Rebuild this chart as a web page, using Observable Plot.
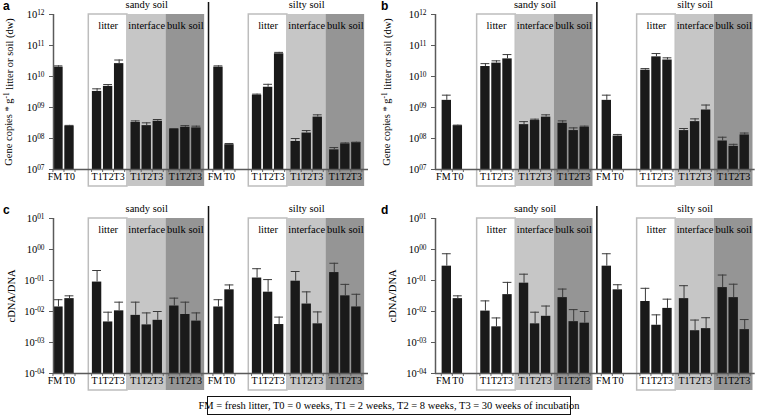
<!DOCTYPE html>
<html><head><meta charset="utf-8">
<script src="https://cdn.jsdelivr.net/npm/d3@7"></script>
<script src="https://cdn.jsdelivr.net/npm/@observablehq/plot@0.6"></script>
<style>
body{margin:0;background:#fff;}
#fig{position:relative;width:757px;height:420px;font-family:"Liberation Serif",serif;background:#fff;overflow:hidden;}
.panel{position:absolute;}
.letter{position:absolute;font-family:"Liberation Sans",Arial,sans-serif;font-weight:bold;font-size:12px;line-height:12px;}
#caption{position:absolute;left:207px;top:396px;width:364px;height:19px;box-sizing:border-box;border:1.5px solid #111;font-size:10.5px;display:flex;align-items:center;justify-content:center;white-space:nowrap;}
</style></head><body><div id="fig"></div>
<script>
// ---------- categories / labels ----------
const soils = ["sandy soil", "silty soil"];
const startLabels = ["FM", "T0"];
const compartments = ["litter", "interface", "bulk soil"];
const times = ["T1", "T2", "T3"];
const geneTickExps = ["07", "08", "09", "10", "11", "12"];
const ratioTickExps = ["-04", "-03", "-02", "-01", "00", "01"];
const geneLabel = "Gene copies * g^-1 litter or soil (dw)";
const ratioLabel = "cDNA/DNA";
const captionText = "FM = fresh litter, T0 = 0 weeks, T1 = 2 weeks, T2 = 8 weeks, T3 = 30 weeks of incubation";

// order in each array: FM, T0, litter T1-T3, interface T1-T3, bulk soil T1-T3
// panel a
const aSandy    = [2.0e10, 2.5e8, 3.3e9, 4.8e9, 2.6e10, 3.3e8, 2.6e8, 3.6e8, 2.0e8, 2.3e8, 2.2e8];
const aSandyErr = [2.2e10, 2.65e8, 4.0e9, 5.5e9, 3.4e10, 3.7e8, 3.2e8, 4.1e8, 2.1e8, 2.6e8, 2.5e8];
const aSilty    = [2.0e10, 6.3e7, 2.5e9, 4.5e9, 5.4e10, 8.0e7, 1.5e8, 4.9e8, 4.3e7, 6.7e7, 7.4e7];
const aSiltyErr = [2.2e10, 6.9e7, 2.7e9, 5.6e9, 6.0e10, 1.0e8, 1.8e8, 5.8e8, 5.1e7, 7.2e7, 7.6e7];
// panel b
const bSandy    = [1.7e9, 2.6e8, 2.1e10, 2.7e10, 3.7e10, 2.8e8, 3.8e8, 4.9e8, 3.1e8, 1.8e8, 2.3e8];
const bSandyErr = [2.5e9, 2.7e8, 2.6e10, 3.2e10, 5.1e10, 3.5e8, 4.2e8, 5.8e8, 3.7e8, 2.2e8, 2.5e8];
const bSilty    = [1.7e9, 1.2e8, 1.6e10, 4.3e10, 3.4e10, 1.8e8, 3.5e8, 8.3e8, 8.3e7, 5.6e7, 1.3e8];
const bSiltyErr = [2.5e9, 1.35e8, 1.8e10, 5.5e10, 4.0e10, 2.1e8, 4.3e8, 1.2e9, 1.1e8, 6.5e7, 1.5e8];
// panel c
const cSandy    = [1.4e-2, 2.6e-2, 8.9e-2, 4.6e-3, 1.05e-2, 7.5e-3, 3.7e-3, 5.2e-3, 1.5e-2, 8.0e-3, 4.9e-3];
const cSandyErr = [2.4e-2, 3.2e-2, 2.1e-1, 9.5e-3, 2.0e-2, 2.0e-2, 9.0e-3, 1.0e-2, 2.7e-2, 2.0e-2, 9.0e-3];
const cSilty    = [1.4e-2, 5.0e-2, 1.2e-1, 4.2e-2, 3.8e-3, 9.5e-2, 1.74e-2, 4.0e-3, 1.8e-1, 3.2e-2, 1.4e-2];
const cSiltyErr = [2.4e-2, 7.2e-2, 2.4e-1, 1.07e-1, 6.6e-3, 1.95e-1, 4.3e-2, 9.7e-3, 3.6e-1, 7.5e-2, 3.6e-2];
// panel d
const dSandy    = [2.9e-1, 2.6e-2, 1.03e-2, 3.2e-3, 3.5e-2, 8.2e-2, 4.0e-3, 7.0e-3, 2.8e-2, 4.7e-3, 4.2e-3];
const dSandyErr = [7.3e-1, 3.2e-2, 2.2e-2, 6.2e-3, 8.7e-2, 1.6e-1, 9.5e-3, 1.5e-2, 5.3e-2, 1.15e-2, 1.0e-2];
const dSilty    = [2.9e-1, 5.0e-2, 2.1e-2, 3.6e-3, 1.26e-2, 2.6e-2, 2.4e-3, 2.8e-3, 5.9e-2, 2.8e-2, 2.6e-3];
const dSiltyErr = [7.3e-1, 7.3e-2, 5.6e-2, 7.8e-3, 2.5e-2, 6.8e-2, 5.3e-3, 6.3e-3, 1.5e-1, 7.6e-2, 5.5e-3];

// ---------- layout (in category slot units) ----------
const SOIL_STEP = 29, GROUP = 7, BOX0 = 5.5, BAR_STEP = 2, DIVIDER = 27.2;
const boxFill = ["#ffffff", "#c6c6c6", "#959595"];
const boxStroke = ["#bdbdbd", "none", "none"];

function makeRows(vals, errs, si) {
  const labels = [...startLabels, ...compartments.flatMap(() => times)];
  return vals.map((v, i) => {
    const ci = i < 2 ? -1 : Math.floor((i - 2) / 3);
    const k = i < 2 ? i : (i - 2) % 3;
    const pos = si * SOIL_STEP + (ci < 0 ? BAR_STEP * k : BOX0 + 1.5 + GROUP * ci + BAR_STEP * k);
    return {soil: soils[si], label: labels[i], first: i === 0, value: v, err: errs[i], pos};
  });
}

function supify(svg) {
  d3.select(svg).selectAll("text").each(function () {
    const t = this.textContent;
    const m = t.match(/^(.*?)\^(\S+)(.*)$/);
    if (!m) return;
    const sel = d3.select(this);
    sel.text(null);
    sel.append("tspan").text(m[1]);
    sel.append("tspan").attr("dy", "-0.45em").attr("font-size", "70%").text(m[2]);
    if (m[3]) sel.append("tspan").attr("dy", "0.45em").text(m[3]);
  });
}

function panel(p) {
  const tickVals = p.tickExps.map(e => 10 ** Number(e));
  const expOf = v => p.tickExps.find(e => Math.abs(10 ** Number(e) - v) < v * 1e-6);
  const ymin = tickVals[0], ymax = tickVals[tickVals.length - 1];
  const rows = [...makeRows(p.sandy, p.sandyErr, 0), ...makeRows(p.silty, p.siltyErr, 1)];
  const boxes = soils.flatMap((s, si) => compartments.map((c, ci) => ({
    name: c, ci,
    x1: si * SOIL_STEP + BOX0 + ci * GROUP,
    x2: si * SOIL_STEP + BOX0 + (ci + 1) * GROUP
  })));
  const soilLabels = soils.map((s, si) => ({name: s, x: si * SOIL_STEP + BOX0 + 1.5 * GROUP}));
  const xTicks = Array.from(new Set(rows.flatMap(d => [d.pos - 1, d.pos + 1])));
  const svg = Plot.plot({
    width: p.width, height: 192,
    marginLeft: p.marginLeft, marginRight: p.marginRight, marginTop: 14, marginBottom: 23,
    x: {type: "linear", domain: p.xDomain, axis: null},
    y: {type: "log", domain: [ymin, ymax], axis: null},
    style: {fontFamily: "Liberation Serif, serif", fontSize: "10.5px", color: "#000", background: "transparent", overflow: "visible"},
    marks: [
      Plot.rect(boxes, {x1: "x1", x2: "x2", y1: ymin, y2: ymax, fill: d => boxFill[d.ci], stroke: d => boxStroke[d.ci], strokeWidth: 1.5, insetBottom: -17}),
      Plot.text(boxes, {x: d => (d.x1 + d.x2) / 2, y: ymax, text: "name", dy: 11, fontSize: 10.5}),
      Plot.text(soilLabels, {x: "x", y: ymax, text: "name", dy: -9.5, fontSize: 10.5}),
      Plot.ruleX([DIVIDER], {y1: ymax, y2: ymin, insetTop: -12, stroke: "#111", strokeWidth: 1.5}),
      Plot.rect(rows, {x1: d => d.pos - 0.85, x2: d => d.pos + 0.85, y1: ymin, y2: "value", fill: "#1a1a1a"}),
      Plot.ruleX(rows, {x: "pos", y1: "err", y2: "value", stroke: "#3a3a3a", strokeWidth: 1}),
      Plot.ruleY(rows, {y: "err", x1: d => d.pos - 0.8, x2: d => d.pos + 0.8, stroke: "#3a3a3a", strokeWidth: 1}),
      Plot.ruleX(xTicks, {y1: ymin, y2: ymin, insetBottom: -3, stroke: "#666"}),
      Plot.ruleY([ymin], {stroke: "#5a5a5a", strokeWidth: 1.5}),
      Plot.ruleX([p.xDomain[0]], {stroke: "#5a5a5a", strokeWidth: 1.5}),
      Plot.axisY({ticks: tickVals, tickFormat: d => "10^" + expOf(d), tickSize: 4, tickPadding: 5, label: null, stroke: "#5a5a5a", fontSize: 10.5}),
      Plot.text(rows.filter(d => d.first), {x: "pos", y: ymin, text: "label", dy: 7, dx: -3.5, fontSize: 10}),
      Plot.text(rows.filter(d => !d.first), {x: "pos", y: ymin, text: "label", dy: 7, fontSize: 10}),
      Plot.text([p.yLabel], {frameAnchor: "left", textAnchor: "middle", rotate: -90, dx: p.labelX - p.marginLeft, text: d => d, fontSize: 10.5})
    ]
  });
  supify(svg);
  const div = document.createElement("div");
  div.className = "panel";
  div.style.left = p.left + "px";
  div.style.top = p.top + "px";
  div.appendChild(svg);
  const letter = document.createElement("div");
  letter.className = "letter";
  letter.textContent = p.letter;
  letter.style.left = (p.left + 3) + "px";
  letter.style.top = (p.top + p.letterDy) + "px";
  const fig = document.getElementById("fig");
  fig.appendChild(div);
  fig.appendChild(letter);
}

const leftGeom = {width: 378, marginLeft: 53, marginRight: 10, xDomain: [-0.9, 56.2], labelX: 8};
const rightGeom = {width: 379, marginLeft: 57, marginRight: 2.3, xDomain: [-2.05, 55.9], labelX: 8};

panel({...leftGeom, letter: "a", left: 0, top: 0, letterDy: 0, sandy: aSandy, sandyErr: aSandyErr, silty: aSilty, siltyErr: aSiltyErr, tickExps: geneTickExps, yLabel: geneLabel});
panel({...rightGeom, letter: "b", left: 378, top: 0, letterDy: 0, sandy: bSandy, sandyErr: bSandyErr, silty: bSilty, siltyErr: bSiltyErr, tickExps: geneTickExps, yLabel: geneLabel});
panel({...leftGeom, labelX: 11, letter: "c", left: 0, top: 204, letterDy: 0, sandy: cSandy, sandyErr: cSandyErr, silty: cSilty, siltyErr: cSiltyErr, tickExps: ratioTickExps, yLabel: ratioLabel});
panel({...rightGeom, labelX: 14, letter: "d", left: 378, top: 204, letterDy: 0, sandy: dSandy, sandyErr: dSandyErr, silty: dSilty, siltyErr: dSiltyErr, tickExps: ratioTickExps, yLabel: ratioLabel});

const cap = document.createElement("div");
cap.id = "caption";
cap.textContent = captionText;
document.getElementById("fig").appendChild(cap);
</script>
</body></html>
